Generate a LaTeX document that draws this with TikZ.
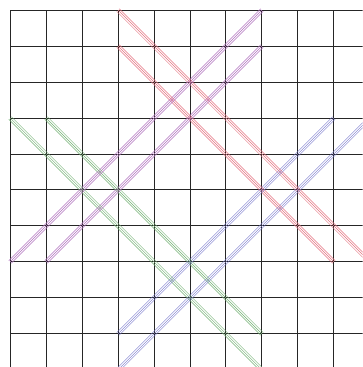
\documentclass[tikz,border=0pt]{standalone}
\usepackage{tikz}
\usetikzlibrary{calc}

\definecolor{lnred}{rgb}{0.90,0.45,0.50}
\definecolor{lnpurple}{rgb}{0.70,0.45,0.75}
\definecolor{lngreen}{rgb}{0.45,0.70,0.45}
\definecolor{lnblue}{rgb}{0.45,0.45,0.80}

\begin{document}
\begin{tikzpicture}[
gridline/.style={draw=black!85, line width=0.75pt},
strand/.style={line width=0.35pt},
redline/.style={strand, draw=lnred},
purpleline/.style={strand, draw=lnpurple},
greenline/.style={strand, draw=lngreen},
blueline/.style={strand, draw=lnblue}
]
\useasboundingbox (-0.28,0.08) rectangle (9.80,10.28);
\clip (-0.28,0.08) rectangle (9.80,10.28);
\fill[white] (-0.28,0.08) rectangle (9.80,10.28);

% square grid
\draw[gridline] (0,0) grid (10,10);

% diagonal bands, three strands each
\foreach \d in {-0.035,0,0.035} {
  \begin{scope}[shift={(\d,\d)}]
    \draw[redline] (3,10) -- (10,3) (3,9) -- (9,3);
    \draw[greenline] (0,7) -- (7,0) (1,7) -- (7,1);
  \end{scope}
  \begin{scope}[shift={(\d,-\d)}]
    \draw[purpleline] (0,3) -- (7,10) (1,3) -- (7,9);
    \draw[blueline] (3,0) -- (10,7) (3,1) -- (9,7);
  \end{scope}
}
\end{tikzpicture}
\end{document}
